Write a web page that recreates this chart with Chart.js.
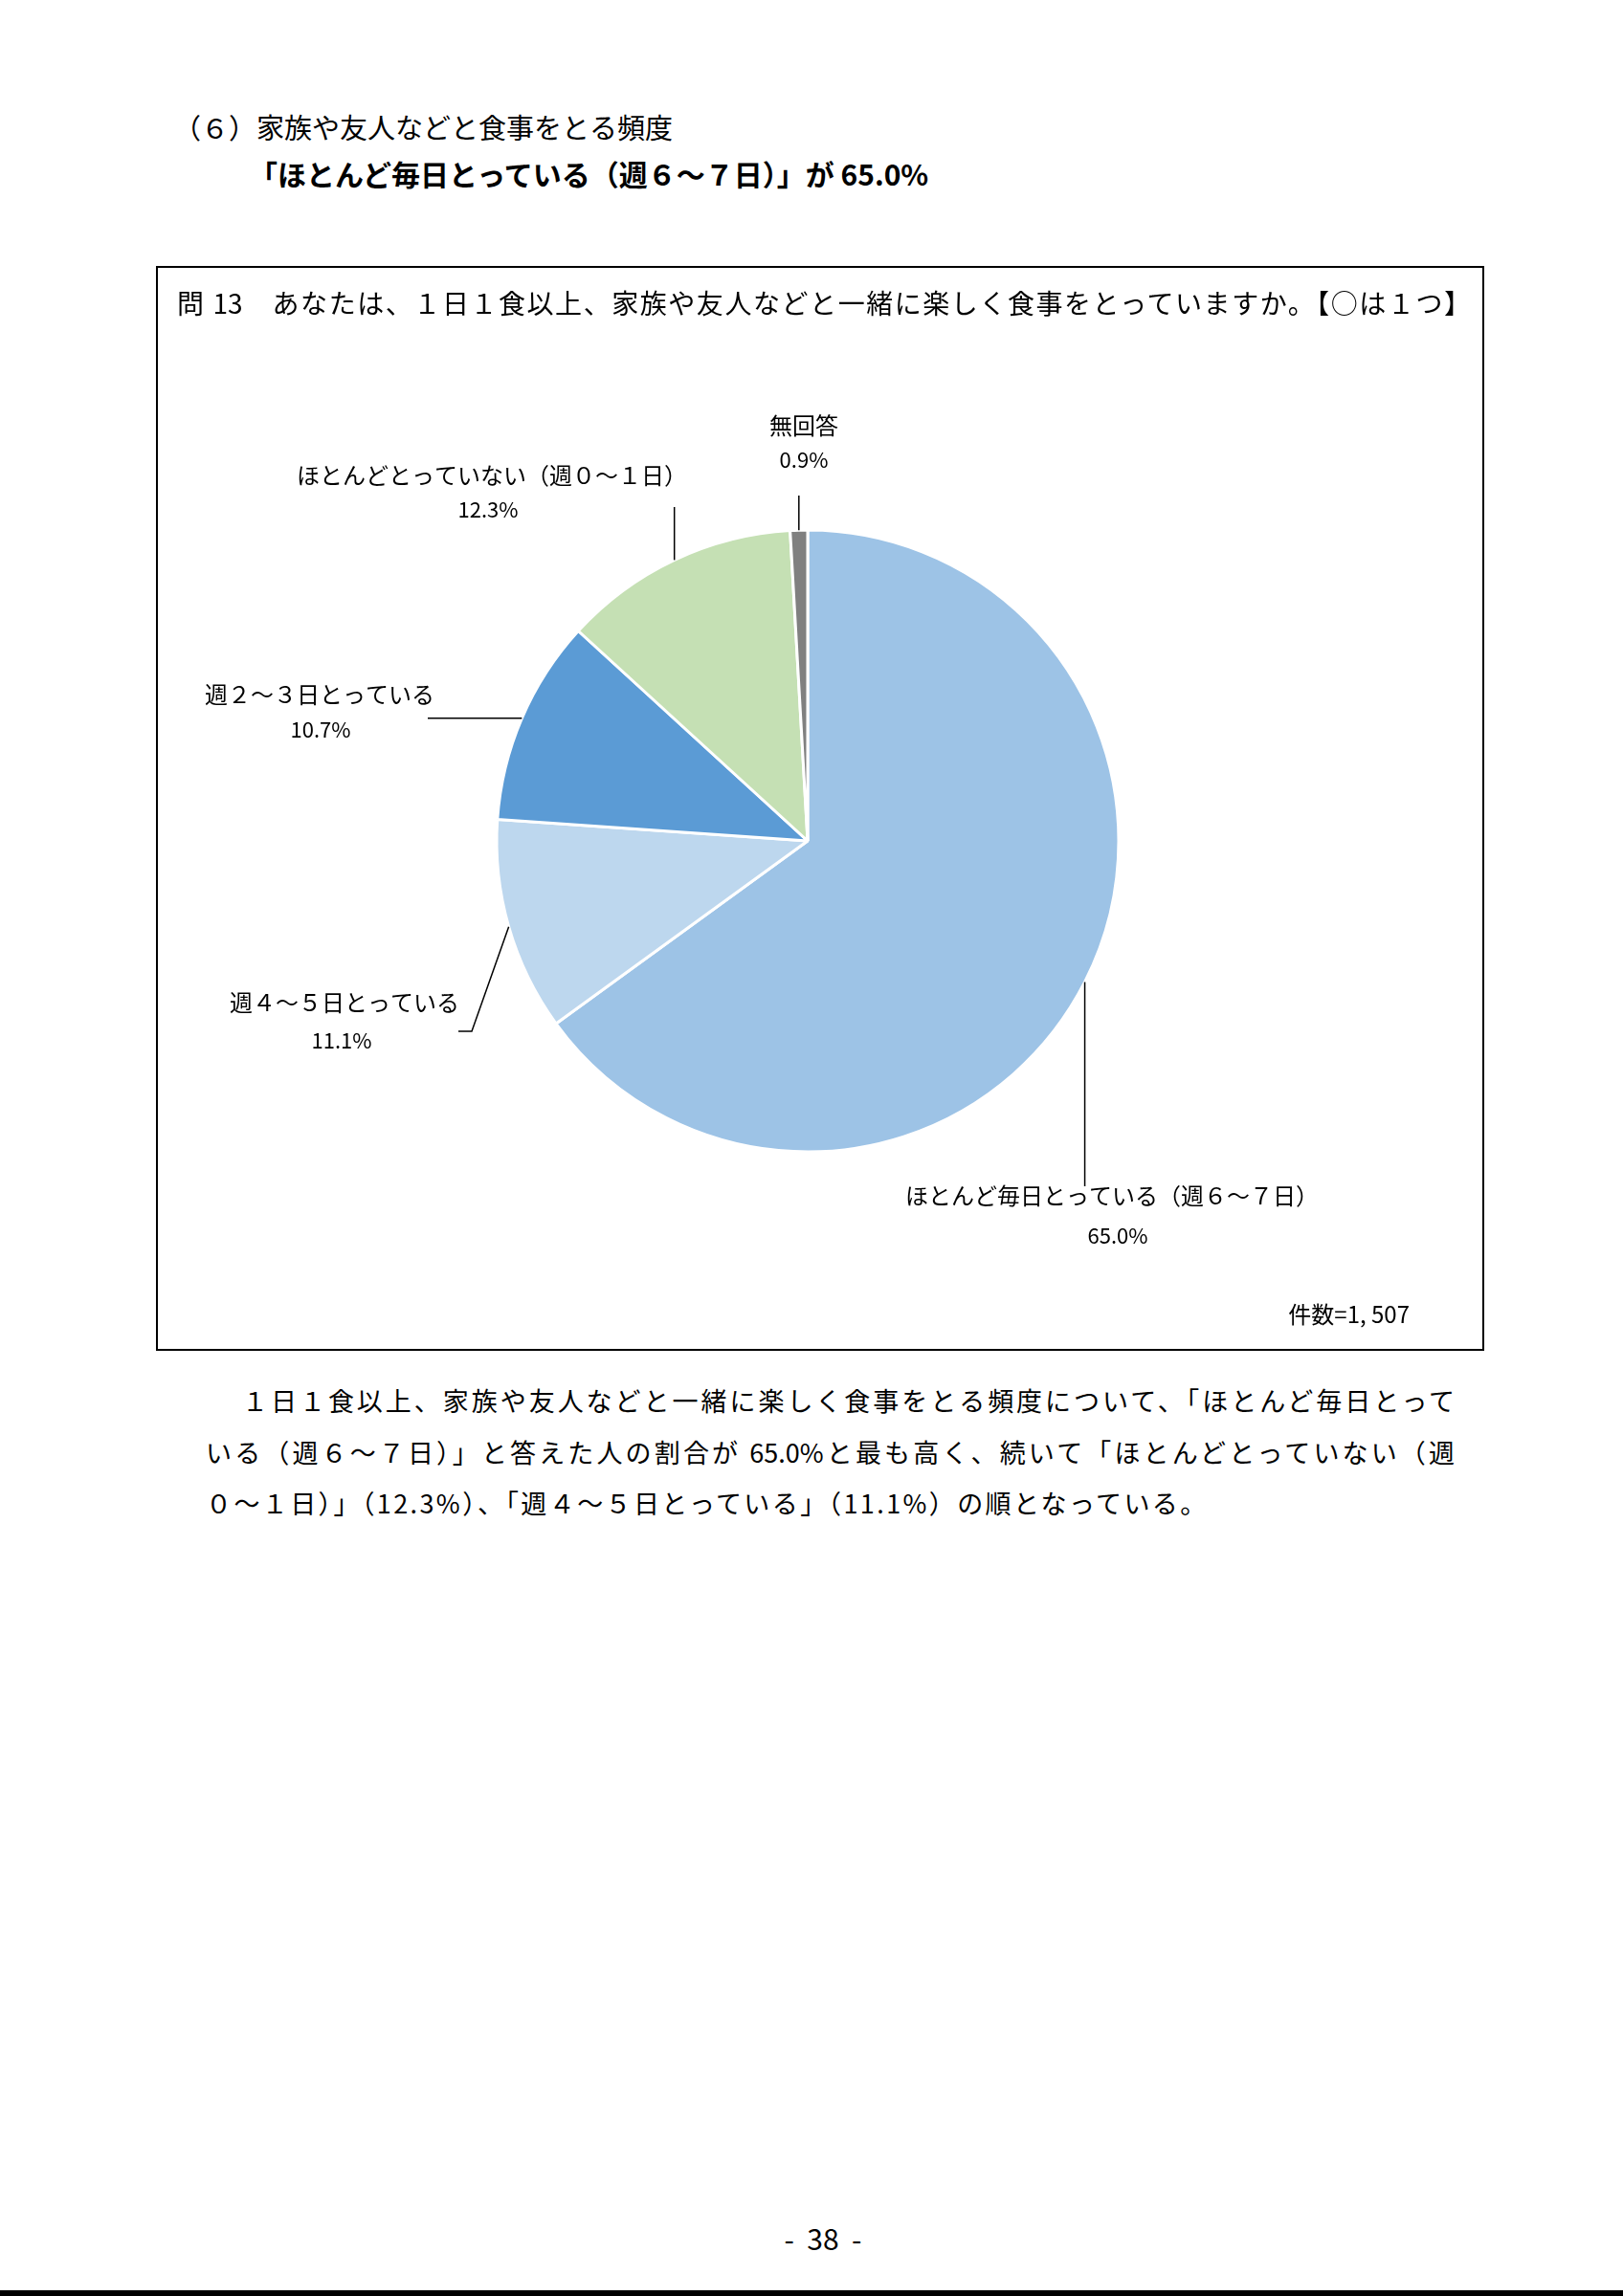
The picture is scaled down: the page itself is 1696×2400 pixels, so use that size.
<!DOCTYPE html>
<html lang="ja">
<head>
<meta charset="utf-8">
<title>家族や友人などと食事をとる頻度</title>
<script src="https://cdn.jsdelivr.net/npm/chart.js@4.4.1/dist/chart.umd.min.js"></script>
<style>
    body { margin: 0; background: #fff; }
    .page {
        position: relative;
        width: 1696px;
        height: 2400px;
        overflow: hidden;
        color: #000;
        font-family: "Noto Sans CJK JP", "Noto Sans", sans-serif;
    }
    .line { position: absolute; white-space: nowrap; line-height: 1; }
    .justify { text-align: justify; text-align-last: justify; }
    .box {
        position: absolute;
        left: 163px; top: 278px;
        width: 1384px; height: 1130px;
        border: 2px solid #000;
    }
    #pie { position: absolute; left: 0; top: 0; }
    .rule { position: absolute; left: 0; top: 2394px; width: 1696px; height: 6px; background: #000; }
</style>
</head>
<body>
<div class="page">
    <div class="line" style="left:181px; top:118px; font-size:29px;">（６）家族や友人などと食事をとる頻度</div>
    <div class="line" style="left:260px; top:166px; font-size:30px; font-weight:bold;">「ほとんど毎日とっている（週６～７日）」が 65.0%</div>

    <div class="box">
        <canvas id="pie" width="1384" height="1130"></canvas>
        <div class="line justify" style="left:20px; top:22px; width:1352px; font-size:28px;">問 13　あなたは、１日１食以上、家族や友人などと一緒に楽しく食事をとっていますか。【○は１つ】</div>
        <div class="line" style="right:76px; top:1081px; font-size:24px;">件数=1, 507</div>
    </div>

    <div class="line justify" style="left:253px; top:1450px; width:1267px; font-size:27px;">１日１食以上、家族や友人などと一緒に楽しく食事をとる頻度について、「ほとんど毎日とって</div>
    <div class="line justify" style="left:215px; top:1504px; width:1305px; font-size:27px;">いる（週６～７日）」と答えた人の割合が 65.0%と最も高く、続いて「ほとんどとっていない（週</div>
    <div class="line" style="left:215px; top:1557px; font-size:27px; letter-spacing:2.4px;">０～１日）」（12.3%）、「週４～５日とっている」（11.1%）の順となっている。</div>

    <div class="line" style="left:790px; top:2324px; width:140px; text-align:center; font-size:30px;">-&nbsp;&nbsp;38&nbsp;&nbsp;-</div>
    <div class="rule"></div>
</div>

<script>
// 問13 回答割合（％）、件数=1,507
const categories = [
    'ほとんど毎日とっている（週６～７日）',
    '週４～５日とっている',
    '週２～３日とっている',
    'ほとんどとっていない（週０～１日）',
    '無回答'
];
const values = [65.0, 11.1, 10.7, 12.3, 0.9];
const sliceColors = ['#9DC3E6', '#BDD7EE', '#5B9BD5', '#C5E0B4', '#808080'];

// label / leader placement, offsets from the pie centre (null = keep leader start coordinate)
const labelLayout = [
    { name: [318, 371], pct: [324, 413], leader: [[null, 361]] },
    { name: [-484, 169], pct: [-487, 209], leader: [[-351, 199], [-365, 199]] },
    { name: [-510, -153], pct: [-509, -116], leader: [[-397, null]] },
    { name: [-330, -382], pct: [-334, -346], leader: [[null, -349]] },
    { name: [-4, -434], pct: [-4, -398], leader: [[null, -361]] }
];

const pieLabels = {
    id: 'pieLabels',
    afterDatasetsDraw(chart) {
        const ctx = chart.ctx;
        const arcs = chart.getDatasetMeta(0).data;
        ctx.save();
        ctx.strokeStyle = '#000';
        ctx.lineWidth = 1.5;
        ctx.fillStyle = '#000';
        ctx.textAlign = 'center';
        ctx.textBaseline = 'middle';
        arcs.forEach((arc, i) => {
            const { x, y, startAngle, endAngle, outerRadius } =
                arc.getProps(['x', 'y', 'startAngle', 'endAngle', 'outerRadius'], true);
            const mid = (startAngle + endAngle) / 2;
            const sx = x + Math.cos(mid) * outerRadius;
            const sy = y + Math.sin(mid) * outerRadius;
            const lay = labelLayout[i];

            ctx.beginPath();
            ctx.moveTo(sx, sy);
            lay.leader.forEach(p => {
                ctx.lineTo(p[0] === null ? sx : x + p[0], p[1] === null ? sy : y + p[1]);
            });
            ctx.stroke();

            ctx.font = '24px "Noto Sans CJK JP"';
            ctx.fillText(categories[i], x + lay.name[0], y + lay.name[1]);
            ctx.font = '22px "Noto Sans CJK JP"';
            ctx.fillText(values[i].toFixed(1) + '%', x + lay.pct[0], y + lay.pct[1]);
        });
        ctx.restore();
    }
};

new Chart(document.getElementById('pie').getContext('2d'), {
    type: 'pie',
    data: {
        labels: categories,
        datasets: [{
            data: values,
            backgroundColor: sliceColors,
            borderColor: '#fff',
            borderWidth: 3,
            radius: 325
        }]
    },
    options: {
        responsive: false,
        animation: false,
        events: [],
        layout: { padding: { left: 351, top: 271, right: 377, bottom: 203 } },
        plugins: {
            legend: { display: false },
            tooltip: { enabled: false }
        }
    },
    plugins: [pieLabels]
});
</script>
</body>
</html>
